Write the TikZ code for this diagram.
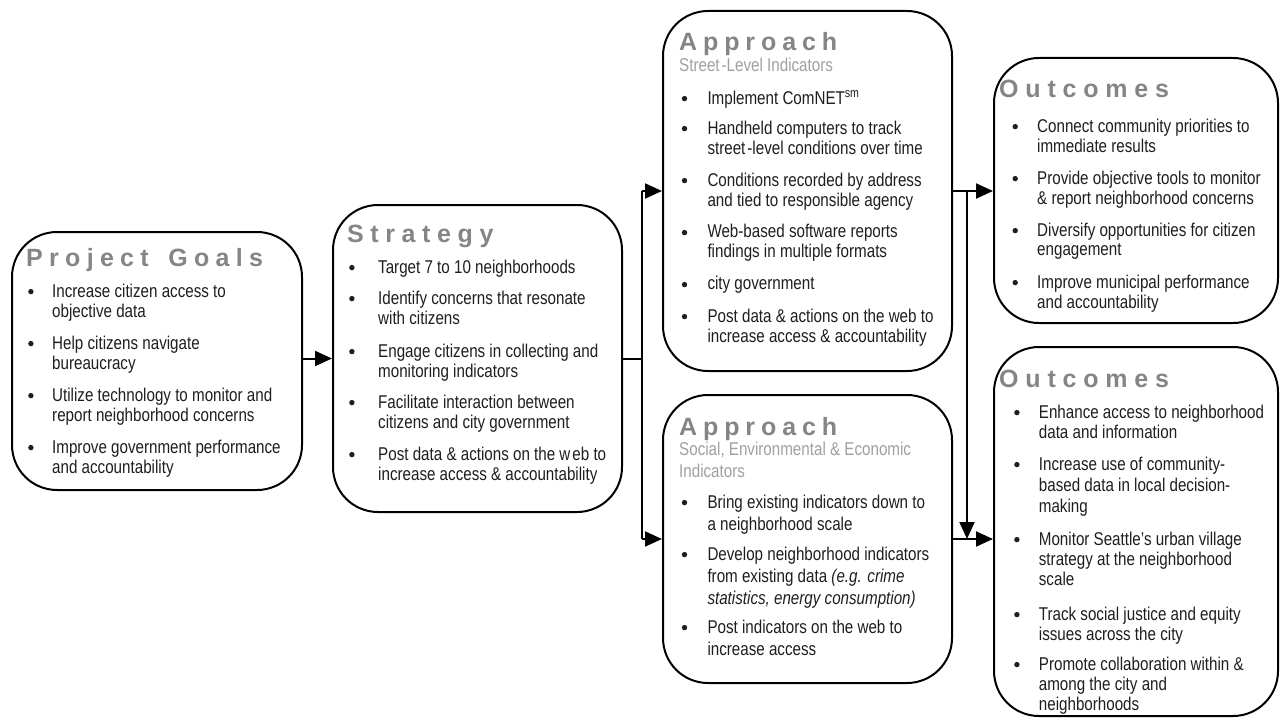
\documentclass[tikz,border=0pt]{standalone}
\usepackage{fontspec}
\setmainfont{Liberation Sans}[FakeStretch=0.82]
\newfontfamily\titlefont{Liberation Sans}
\usetikzlibrary{arrows.meta,fit}
\definecolor{titlegray}{HTML}{858585}
\definecolor{subgray}{HTML}{A0A0A0}
\definecolor{bodyblack}{HTML}{1E1E1E}
\newlength\bw
\newcommand\bul{\tikz[baseline=-5.4pt]\fill (0,0) circle (2.7pt);}
\newcommand\bi[1]{\makebox[\bw][l]{\bul}#1}
\newcommand\ci[1]{\hspace*{\bw}#1}
\makeatletter
\newcommand\spacedtitle[2]{{\def\sp@k{\kern#1}\sp@loop#2\@nil}}
\def\sp@loop#1#2\@nil{#1\ifx\relax#2\relax\else\sp@k\sp@loop#2\@nil\fi}
\makeatother
\begin{document}
\begin{tikzpicture}[x=1pt,y=-1pt,
  box/.style={draw, line width=2pt, rounded corners=45pt, inner sep=0pt},
  ttl/.style={anchor=base west, inner sep=0pt, text=titlegray, font=\titlefont\bfseries\fontsize{25}{25}\selectfont},
  sub/.style={anchor=base west, inner sep=0pt, text=subgray, font=\fontsize{18.5}{22}\selectfont},
  body/.style={anchor=base west, inner sep=0pt, text=bodyblack, font=\fontsize{18.5}{20}\selectfont},
  bodywide/.style={body, font=\fontsize{18.5}{22}\selectfont},
  ln/.style={line width=2pt},
  arr/.style={line width=2pt, -{Triangle[length=17pt,width=15pt]}}]
\useasboundingbox (0,0) rectangle (1280,725);

% boxes
\node[box, fit={(12,232) (302,490)}] (pg) {};
\node[box, fit={(333,205) (622,512)}] (st) {};
\node[box, fit={(663,11) (952,371)}] (a1) {};
\node[box, fit={(663,395) (952,683)}] (a2) {};
\node[box, fit={(994,58) (1278,323)}] (o1) {};
\node[box, fit={(994,347) (1278,716)}] (o2) {};

% titles
\node[ttl] (pgt) at (26,266) {\spacedtitle{6.3pt}{Project~Goals}};
\node[ttl] (stt) at (347,242) {\spacedtitle{6.6pt}{Strategy}};
\node[ttl] (a1t) at (679,51) {\spacedtitle{5.9pt}{Approach}};
\node[ttl] (a2t) at (679,435) {\spacedtitle{5.9pt}{Approach}};
\node[ttl] (o1t) at (999,97) {\spacedtitle{6.8pt}{Outcomes}};
\node[ttl] (o2t) at (999,387) {\spacedtitle{6.8pt}{Outcomes}};

% subtitles
\node[sub] (a1s) at (679,71) {Street\kern2pt-Level Indicators};
\node[sub] (a2s) at (679,455) {\begin{tabular}[t]{@{}l@{}}Social, Environmental \& Economic\\Indicators\end{tabular}};

% bodies
\node[body] (pgb) at (28,297) {\setlength\bw{24pt}\begin{tabular}[t]{@{}l@{}}
\bi{Increase citizen access to}\\ \ci{objective data}\\[12pt]
\bi{Help citizens navigate}\\ \ci{bureaucracy}\\[12pt]
\bi{Utilize technology to monitor and}\\ \ci{report neighborhood concerns}\\[12pt]
\bi{Improve government performance}\\ \ci{and accountability}
\end{tabular}};

\node[body] (stb) at (349,273) {\setlength\bw{29pt}\begin{tabular}[t]{@{}l@{}}
\bi{Target 7 to 10 neighborhoods}\\[11pt]
\bi{Identify concerns that resonate}\\ \ci{with citizens}\\[13pt]
\bi{Engage citizens in collecting and}\\ \ci{monitoring indicators}\\[11pt]
\bi{Facilitate interaction between}\\ \ci{citizens and city government}\\[12pt]
\bi{Post data \& actions on the w\kern2pt eb to}\\ \ci{increase access \& accountability}
\end{tabular}};

\node[body] (a1b) at (681.6,104) {\setlength\bw{25.7pt}\begin{tabular}[t]{@{}l@{}}
\bi{Implement ComNET\textsuperscript{sm}}\\[10pt]
\bi{Handheld computers to track}\\ \ci{street\kern2pt-level conditions over time}\\[12pt]
\bi{Conditions recorded by address}\\ \ci{and tied to responsible agency}\\[12pt]
\bi{Web-based software reports}\\ \ci{findings in multiple formats}\\[12pt]
\bi{city government}\\[12pt]
\bi{Post data \& actions on the web to}\\ \ci{increase access \& accountability}
\end{tabular}};

\node[bodywide] (a2b) at (681.6,508) {\setlength\bw{25.7pt}\begin{tabular}[t]{@{}l@{}}
\bi{Bring existing indicators down to}\\ \ci{a neighborhood scale}\\[8pt]
\bi{Develop neighborhood indicators}\\ \ci{from existing data \textit{(e.g. crime}}\\ \ci{\textit{statistics, energy consumption)}}\\[7pt]
\bi{Post indicators on the web to}\\ \ci{increase access}
\end{tabular}};

\node[body] (o1b) at (1012.3,132) {\setlength\bw{24.7pt}\begin{tabular}[t]{@{}l@{}}
\bi{Connect community priorities to}\\ \ci{immediate results}\\[12pt]
\bi{Provide objective tools to monitor}\\ \ci{\& report neighborhood concerns}\\[12pt]
\bi{Diversify opportunities for citizen}\\ \ci{engagement}\\[12pt]
\bi{Improve municipal performance}\\ \ci{and accountability}
\end{tabular}};

\node[body] (o2b) at (1014,418) {\setlength\bw{24.7pt}\begin{tabular}[t]{@{}l@{}}
\bi{Enhance access to neighborhood}\\ \ci{data and information}\\[12pt]
\bi{Increase use of community-}\\[1pt] \ci{based data in local decision-}\\[1pt] \ci{making}\\[13pt]
\bi{Monitor Seattle’s urban village}\\ \ci{strategy at the neighborhood}\\ \ci{scale}\\[15pt]
\bi{Track social justice and equity}\\ \ci{issues across the city}\\[10pt]
\bi{Promote collaboration within \&}\\ \ci{among the city and}\\ \ci{neighborhoods}
\end{tabular}};

% connectors
\coordinate (j1) at (642,360);
\coordinate (j2) at (967,360);
\draw[arr] (pg.east |- st.west) -- (st.west);
\draw[ln] (st.east) -- (st.east -| j1);
\draw[ln] (j1 |- a1.west) -- (j1 |- a2.west);
\draw[arr] (j1 |- a1.west) -- (a1.west);
\draw[arr] (j1 |- a2.west) -- (a2.west);
\draw[arr] (a1.east) -- (o1.west |- a1.east);
\draw[arr] (j2 |- a1.east) -- (j2 |- a2.east);
\draw[arr] (a2.east) -- (o2.west |- a2.east);
\end{tikzpicture}
\end{document}
